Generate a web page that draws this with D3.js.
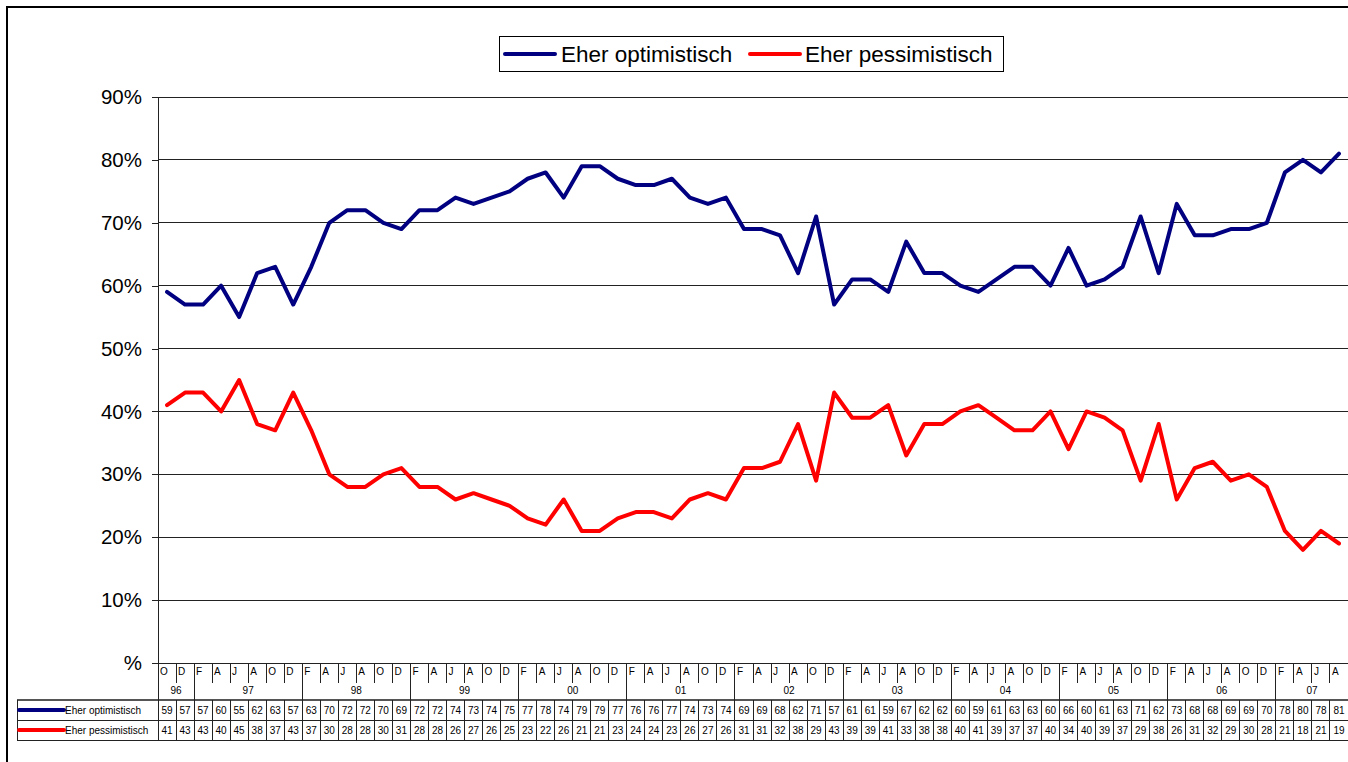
<!DOCTYPE html>
<html><head><meta charset="utf-8">
<script src="https://cdn.jsdelivr.net/npm/d3@7"></script>
<style>body{margin:0;background:#fff}svg{display:block;font-family:"Liberation Sans",Arial,sans-serif}</style>
</head><body>
<svg id="c" width="1348" height="762"></svg>
<script>
const months = ["O","D",
 "F","A","J","A","O","D","F","A","J","A","O","D","F","A","J","A","O","D",
 "F","A","J","A","O","D","F","A","J","A","O","D","F","A","J","A","O","D",
 "F","A","J","A","O","D","F","A","J","A","O","D","F","A","J","A","O","D",
 "F","A","J","A","O","D","F","A","J","A"];
const years = [{label:"96",n:2},{label:"97",n:6},{label:"98",n:6},{label:"99",n:6},{label:"00",n:6},{label:"01",n:6},{label:"02",n:6},{label:"03",n:6},{label:"04",n:6},{label:"05",n:6},{label:"06",n:6},{label:"07",n:4}];
const optimistisch = [59,57, 57,60,55,62,63,57, 63,70,72,72,70,69, 72,72,74,73,74,75, 77,78,74,79,79,77, 76,76,77,74,73,74, 69,69,68,62,71,57, 61,61,59,67,62,62, 60,59,61,63,63,60, 66,60,61,63,71,62, 73,68,68,69,69,70, 78,80,78,81];
const pessimistisch = [41,43, 43,40,45,38,37,43, 37,30,28,28,30,31, 28,28,26,27,26,25, 23,22,26,21,21,23, 24,24,23,26,27,26, 31,31,32,38,29,43, 39,39,41,33,38,38, 40,41,39,37,37,40, 34,40,39,37,29,38, 26,31,32,29,30,28, 21,18,21,19];
const yTicks = [0,10,20,30,40,50,60,70,80,90];
const series = [
  {name:"Eher optimistisch", values:optimistisch, color:"#000080"},
  {name:"Eher pessimistisch", values:pessimistisch, color:"#ff0000"}
];

const svg = d3.select("#c");
const L = 158, R = 1348, T = 97, B = 663;
const x = d3.scaleBand().domain(d3.range(months.length)).range([L, R]);
const y = d3.scaleLinear().domain([0, 90]).range([B, T]);

// outer border
svg.append("path").attr("d", `M7,762 V7 H1348`).attr("fill","none").attr("stroke","#000").attr("stroke-width",2);

// gridlines
svg.append("g").selectAll("line").data(yTicks.filter(d=>d>0)).join("line")
  .attr("x1", L).attr("x2", R).attr("y1", d=>y(d)).attr("y2", d=>y(d))
  .attr("stroke","#222").attr("stroke-width",1).attr("shape-rendering","crispEdges");

// y axis
const yAxis = d3.axisLeft(y).tickValues(yTicks).tickSize(6).tickFormat(d => d === 0 ? "%" : d + "%");
const ga = svg.append("g").attr("transform", `translate(${L},0)`).call(yAxis);
ga.select(".domain").attr("stroke","#222").attr("d", `M-0,${T}V${B}`).attr("shape-rendering","crispEdges");
ga.selectAll(".tick line").attr("stroke","#222").attr("shape-rendering","crispEdges");
ga.selectAll(".tick text").attr("font-size", 20.5).attr("fill","#000").attr("x", -16)
  .attr("font-family","Liberation Sans, Arial, sans-serif");

// lines
const line = d3.line().x((d,i)=>x(i)+x.bandwidth()/2).y(d=>y(d));
series.forEach(s => {
  svg.append("path").datum(s.values).attr("d", line)
    .attr("fill","none").attr("stroke", s.color).attr("stroke-width",4)
    .attr("stroke-linejoin","round").attr("stroke-linecap","round");
});

// legend
const lg = svg.append("g");
lg.append("rect").attr("x",499.5).attr("y",36.5).attr("width",504).attr("height",35)
  .attr("fill","#fff").attr("stroke","#000").attr("stroke-width",1);
const legPos = [{lx:505, tx:561}, {lx:750, tx:805}];
series.forEach((s,i) => {
  lg.append("line").attr("x1",legPos[i].lx).attr("x2",legPos[i].lx+50).attr("y1",54).attr("y2",54)
    .attr("stroke", s.color).attr("stroke-width",4).attr("stroke-linecap","round");
  lg.append("text").attr("x",legPos[i].tx).attr("y",62).attr("font-size",22.5).attr("fill","#000").text(s.name);
});

// data table
const tb = svg.append("g").attr("shape-rendering","crispEdges");
const rowMonth = 663, rowYear = 683, row1 = 700, row2 = 720, rowEnd = 740;
const st = "#222";
tb.append("line").attr("x1",L).attr("x2",R).attr("y1",rowMonth).attr("y2",rowMonth).attr("stroke",st);
tb.append("line").attr("x1",17).attr("x2",R).attr("y1",row1).attr("y2",row1).attr("stroke","#555").attr("stroke-width",2);
tb.append("line").attr("x1",17).attr("x2",R).attr("y1",row2).attr("y2",row2).attr("stroke",st);
tb.append("line").attr("x1",17).attr("x2",R).attr("y1",rowEnd).attr("y2",rowEnd).attr("stroke",st);
tb.append("line").attr("x1",17).attr("x2",17).attr("y1",row1).attr("y2",rowEnd).attr("stroke",st);
tb.append("line").attr("x1",L).attr("x2",L).attr("y1",rowMonth).attr("y2",rowEnd).attr("stroke",st);
months.forEach((m,i) => {
  if (i > 0) tb.append("line").attr("x1",x(i)).attr("x2",x(i)).attr("y1",rowMonth).attr("y2",rowYear).attr("stroke",st);
  tb.append("text").attr("x",x(i)+2).attr("y",rowMonth+12).attr("font-size",10).attr("fill","#000").text(m);
  if (i > 0) tb.append("line").attr("x1",x(i)).attr("x2",x(i)).attr("y1",row1).attr("y2",rowEnd).attr("stroke",st);
});
let acc = 0;
years.forEach(yr => {
  const x0 = x(acc), x1 = acc + yr.n < months.length ? x(acc + yr.n) : R;
  tb.append("text").attr("x",(x0+x1)/2).attr("y",rowYear+11).attr("font-size",10).attr("text-anchor","middle").attr("fill","#000").text(yr.label);
  acc += yr.n;
  if (acc < months.length) tb.append("line").attr("x1",x(acc)).attr("x2",x(acc)).attr("y1",rowYear).attr("y2",row1).attr("stroke",st);
});
series.forEach((s,k) => {
  const ry = row1 + k*20;
  tb.append("line").attr("x1",19).attr("x2",64).attr("y1",ry+10).attr("y2",ry+10)
    .attr("stroke",s.color).attr("stroke-width",4).attr("stroke-linecap","round").attr("shape-rendering","auto");
  tb.append("text").attr("x",65).attr("y",ry+14).attr("font-size",10).attr("fill","#000").text(s.name);
  s.values.forEach((v,i) => {
    tb.append("text").attr("x",x(i)+x.bandwidth()/2).attr("y",ry+14).attr("font-size",10)
      .attr("text-anchor","middle").attr("fill","#000").text(v);
  });
});
</script>
</body></html>
